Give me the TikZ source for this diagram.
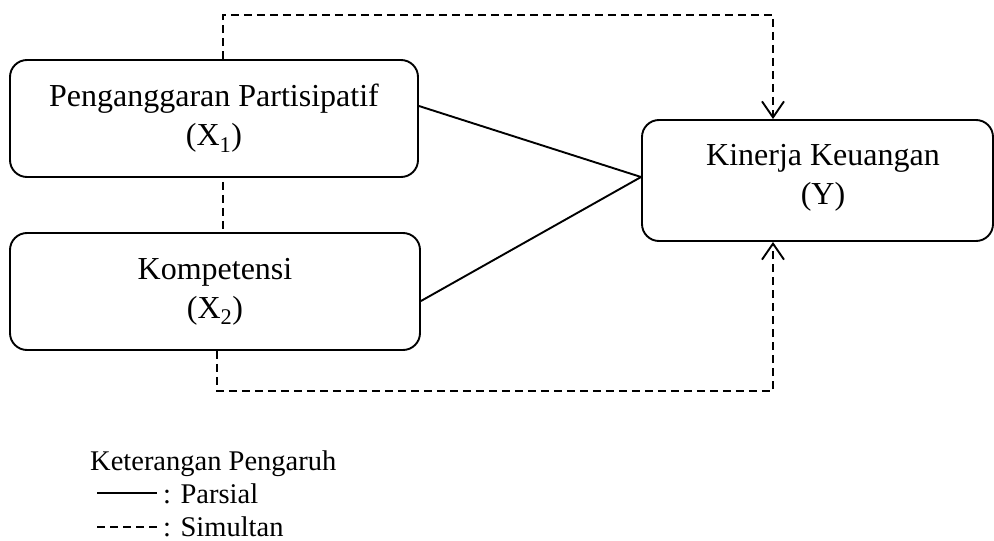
\documentclass[tikz,border=0pt]{standalone}
\usepackage{fontspec}
\setmainfont{Liberation Serif}
\usetikzlibrary{arrows.meta}
\begin{document}
\begin{tikzpicture}[x=1pt,y=1pt,
  box/.style={draw, line width=1.9pt, rounded corners=17pt, align=center,
    font=\fontsize{32}{39}\selectfont, inner sep=0pt},
  boxtext/.style={align=center, font=\fontsize{32}{39}\selectfont, inner sep=0pt},
  simul/.style={line width=1.9pt, dash pattern=on 8pt off 5pt},
  parsial/.style={line width=1.9pt},
  barb/.style={-{Straight Barb[length=16pt,width=22pt,line width=1.9pt]}},
  legtext/.style={anchor=base west, inner sep=0pt, font=\fontsize{28.5}{34}\selectfont},
  legline/.style={line width=1.5pt}
]
\useasboundingbox (0,0) rectangle (994,-541);

% boxes
\node[box, minimum width=408pt, minimum height=117pt] (X1) at (214,-118.5)
  {Penganggaran Partisipatif\\(X\textsubscript{1})};
\node[box, minimum width=410pt, minimum height=117pt] (X2) at (215,-291.5)
  {Kompetensi\\(X\textsubscript{2})};
\node[box, minimum width=351pt, minimum height=121pt] (Y) at (817.5,-180.5) {};
\node[boxtext] (Ytxt) at (823,-177.5) {Kinerja Keuangan\\(Y)};

% routing points
\coordinate (t1) at (223,-15);
\coordinate (t2) at (773,-15);
\coordinate (b1) at (217,-391);
\coordinate (b2) at (773,-391);

% partial (solid) lines
\draw[parsial] ([yshift=12.5pt]X1.east) -- ([yshift=3.5pt]Y.west);
\draw[parsial] ([yshift=-9.5pt]X2.east) -- ([yshift=3.5pt]Y.west);

% simultaneous (dashed) lines
\draw[simul, barb] (t1 |- X1.north) -- (t1) -- (t2) -- (t2 |- Y.north);
\draw[simul] ([yshift=-4pt]t1 |- X1.south) -- (t1 |- X2.north);
\draw[simul, barb] (b1 |- X2.south) -- (b1) -- (b2) -- (b2 |- Y.south);

% legend
\node[legtext] (legtitle) at (90,-470) {Keterangan Pengaruh};
\coordinate (ls1) at (97,-493);
\coordinate (ls2) at (157,-493);
\draw[legline] (ls1) -- (ls2);
\node[legtext] (legpar) at (163,-503) {: Parsial};
\coordinate (ld1) at (97,-527);
\coordinate (ld2) at (160,-527);
\draw[legline, dash pattern=on 8pt off 5pt] (ld1) -- (ld2);
\node[legtext] (legsim) at (163,-536.5) {: Simultan};
\end{tikzpicture}
\end{document}
